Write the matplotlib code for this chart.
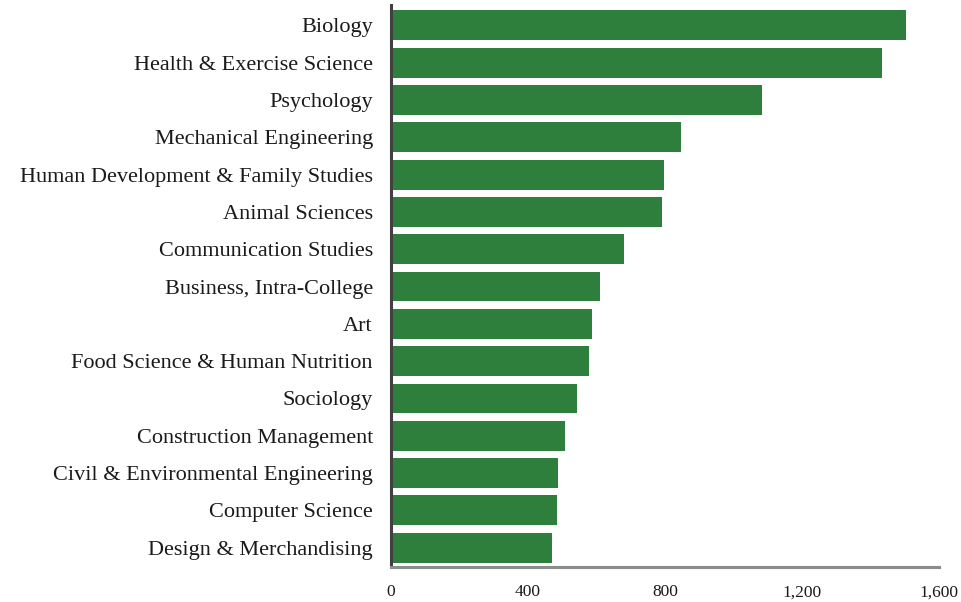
import matplotlib
matplotlib.use("Agg")
import matplotlib.pyplot as plt

majors = [
    "Biology",
    "Health & Exercise Science",
    "Psychology",
    "Mechanical Engineering",
    "Human Development & Family Studies",
    "Animal Sciences",
    "Communication Studies",
    "Business, Intra-College",
    "Art",
    "Food Science & Human Nutrition",
    "Sociology",
    "Construction Management",
    "Civil & Environmental Engineering",
    "Computer Science",
    "Design & Merchandising",
]
students = [1504, 1434, 1083, 847, 797, 791, 680, 610, 587, 578, 543, 508, 488, 485, 470]
x_ticks = [0, 400, 800, 1200, 1600]

plt.rcParams["font.family"] = ["Liberation Serif", "DejaVu Serif"]

fig = plt.figure(figsize=(9.62, 6.02), dpi=100)
ax = fig.add_axes([0.4064, 0.058, 0.5697, 0.9339])

pos = list(range(len(majors)))
ax.barh(pos, students, height=0.8, color="#2f7f3c")

ax.set_ylim(len(majors) - 0.48, -0.55)
ax.set_xlim(0, 1600)
ax.set_yticks(pos)
ax.set_yticklabels(majors, fontsize=16, color="#1a1a1a")
ax.set_xticks(x_ticks)
ax.set_xticklabels([f"{t:,}" for t in x_ticks], fontsize=12.5, color="#1a1a1a",
                   va="baseline")
ax.tick_params(axis="y", length=0, pad=13)
ax.tick_params(axis="x", length=0, pad=21)

for s in ["top", "right"]:
    ax.spines[s].set_visible(False)
ax.spines["left"].set_color("#404040")
ax.spines["left"].set_linewidth(2.2)
ax.spines["bottom"].set_color("#8c8c8c")
ax.spines["bottom"].set_linewidth(2.2)

fig.savefig("out.png", dpi=100)
